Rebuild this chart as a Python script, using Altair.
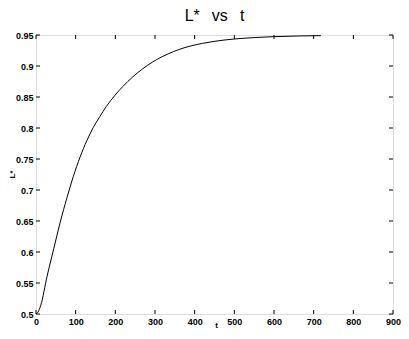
import altair as alt
import pandas as pd

# Data
t_values = [0, 5, 12, 28, 45, 61, 78, 94, 111, 128, 144, 161, 177, 198, 219, 244,
            269, 294, 318, 333, 360, 391, 420, 449, 499, 550, 598, 660, 718]
l_values = [0.5, 0.503, 0.514, 0.561, 0.606, 0.648, 0.6875, 0.7217, 0.753, 0.7793,
            0.8004, 0.8185, 0.8345, 0.852, 0.867, 0.8825, 0.8955, 0.9065, 0.915,
            0.9195, 0.9265, 0.9325, 0.9365, 0.9397, 0.9435, 0.9458, 0.9473, 0.9484,
            0.949]
x_ticks = [0, 100, 200, 300, 400, 500, 600, 700, 800, 900]
y_ticks = [0.5, 0.55, 0.6, 0.65, 0.7, 0.75, 0.8, 0.85, 0.9, 0.95]

W, H = 357, 279
TICK = 4
FONT = "Liberation Sans"

df = pd.DataFrame({"t": t_values, "L": l_values})
xt = pd.DataFrame({"t": x_ticks})
yt = pd.DataFrame({"L": y_ticks})

xs = alt.Scale(domain=[0, 900], nice=False, zero=False)
ys = alt.Scale(domain=[0.5, 0.95], nice=False, zero=False)

x_axis = alt.Axis(values=x_ticks, format="d", title="t", tickSize=0, domain=False,
                  grid=False, labelPadding=3, labelFont=FONT, labelFontSize=9,
                  labelFontWeight="bold", labelColor="black",
                  titleFont=FONT, titleFontSize=8, titleFontWeight="bold",
                  titleColor="black", titleX=180, titleY=11,
                  titleBaseline="middle", labelFlush=False, labelOverlap=False)
y_axis = alt.Axis(values=y_ticks, format="~g", title="L*", tickSize=0, domain=False,
                  grid=False, labelPadding=3, labelFont=FONT, labelFontSize=9,
                  labelFontWeight="bold", labelColor="black",
                  titleFont=FONT, titleFontSize=8, titleFontWeight="bold",
                  titleColor="black", titleX=-24, titleY=139,
                  titleAlign="center", titleBaseline="middle",
                  labelFlush=False, labelOverlap=False)

line = alt.Chart(df).mark_line(color="black", strokeWidth=1, interpolate="monotone").encode(
    x=alt.X("t:Q", scale=xs, axis=x_axis),
    y=alt.Y("L:Q", scale=ys, axis=y_axis),
)

xt_bottom = alt.Chart(xt).mark_rule(color="black", strokeWidth=1).encode(
    x=alt.X("t:Q", scale=xs, axis=x_axis), y=alt.value(H), y2=alt.value(H - TICK))
xt_top = alt.Chart(xt).mark_rule(color="black", strokeWidth=1).encode(
    x=alt.X("t:Q", scale=xs, axis=x_axis), y=alt.value(0), y2=alt.value(TICK))
yt_left = alt.Chart(yt).mark_rule(color="black", strokeWidth=1).encode(
    y=alt.Y("L:Q", scale=ys, axis=y_axis), x=alt.value(0), x2=alt.value(TICK))
yt_right = alt.Chart(yt).mark_rule(color="black", strokeWidth=1).encode(
    y=alt.Y("L:Q", scale=ys, axis=y_axis), x=alt.value(W), x2=alt.value(W - TICK))

chart = alt.layer(line, xt_bottom, xt_top, yt_left, yt_right).properties(
    width=W, height=H,
    title=alt.Title("L*\u00a0\u00a0\u2009vs\u00a0\u00a0\u2009t", font=FONT, fontSize=16,
                    fontWeight="normal", color="black", offset=7, anchor="middle"),
    autosize=alt.AutoSizeParams(type="none"),
    padding={"left": 28, "top": 27, "right": 8, "bottom": 17},
).configure_view(stroke="black", strokeWidth=1).configure(background="white")

chart.save("out.html", embed_options={"renderer": "svg", "actions": False})
